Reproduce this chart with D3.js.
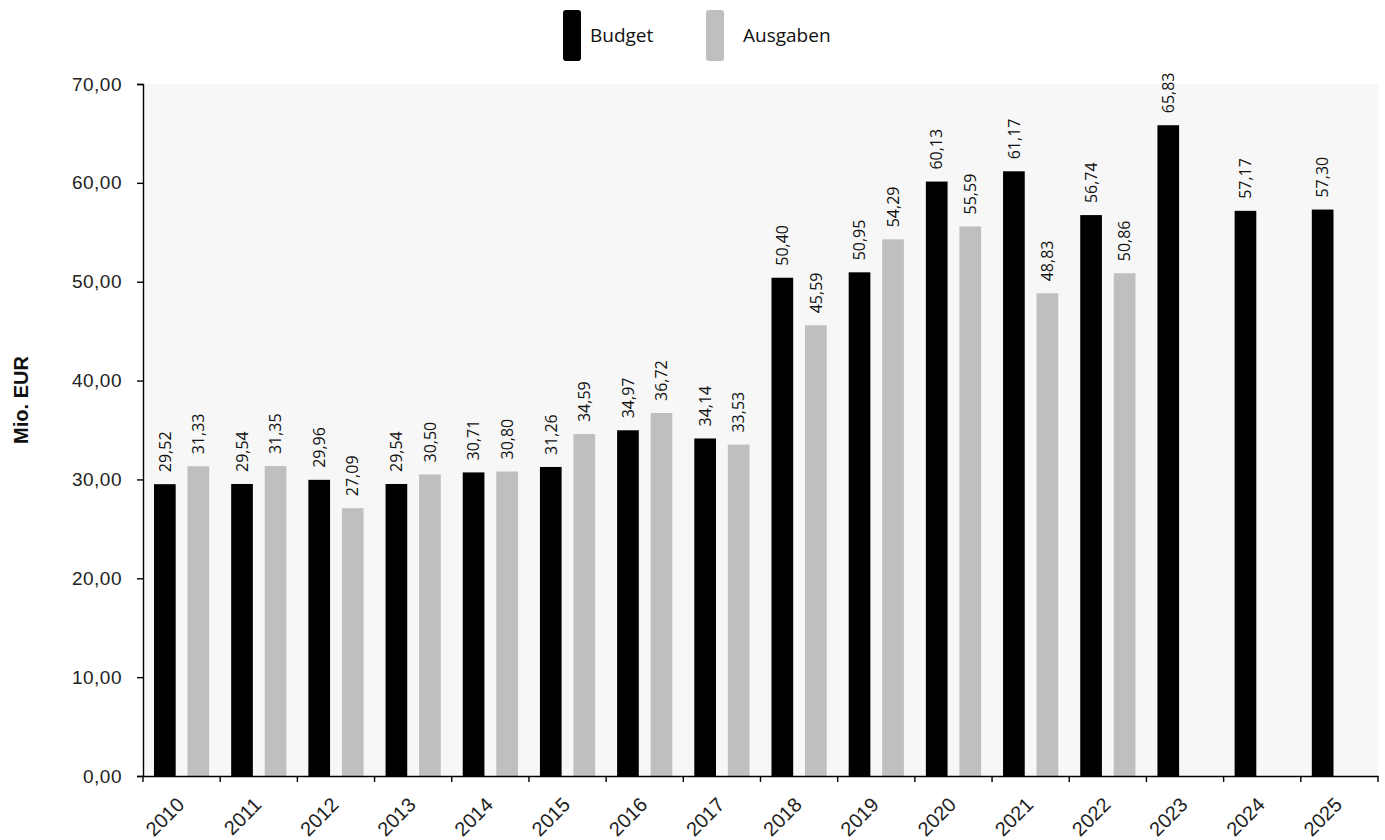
<!DOCTYPE html>
<html>
<head>
<meta charset="utf-8">
<script src="https://cdn.jsdelivr.net/npm/d3@7"></script>
<style>
  html, body { margin: 0; padding: 0; background: #ffffff; }
  svg { display: block; }
</style>
</head>
<body>
<svg id="chart" width="1385" height="840"></svg>
<script>
const years = ["2010","2011","2012","2013","2014","2015","2016","2017","2018","2019","2020","2021","2022","2023","2024","2025"];
const budget = [29.52, 29.54, 29.96, 29.54, 30.71, 31.26, 34.97, 34.14, 50.40, 50.95, 60.13, 61.17, 56.74, 65.83, 57.17, 57.30];
const ausgaben = [31.33, 31.35, 27.09, 30.50, 30.80, 34.59, 36.72, 33.53, 45.59, 54.29, 55.59, 48.83, 50.86, null, null, null];
const seriesNames = ["Budget", "Ausgaben"];
const seriesColors = ["#000000", "#bfbfbf"];
const yTicks = [0, 10, 20, 30, 40, 50, 60, 70];
const yTitle = "Mio. EUR";

const svg = d3.select("#chart");
const margin = { left: 143, right: 1378, top: 84, bottom: 776 };

const x0 = d3.scaleBand().domain(years).range([margin.left, margin.right]).paddingInner(0).paddingOuter(0);
const x1 = d3.scaleBand().domain(seriesNames).range([0, x0.bandwidth()]).paddingInner(0.353).paddingOuter(0.328);
const y = d3.scaleLinear().domain([0, 70]).range([margin.bottom, margin.top]);

const fmt = v => d3.format(".2f")(v).replace(".", ",");

// plot background
svg.append("rect")
  .attr("x", margin.left).attr("y", margin.top)
  .attr("width", margin.right - margin.left).attr("height", margin.bottom - margin.top)
  .attr("fill", "#f7f7f7");

const data = years.map((yr, i) => ({ year: yr, values: [
  { key: "Budget", value: budget[i] },
  { key: "Ausgaben", value: ausgaben[i] }
]}));

const color = d3.scaleOrdinal().domain(seriesNames).range(seriesColors);

const groups = svg.append("g").selectAll("g").data(data).join("g")
  .attr("transform", d => `translate(${x0(d.year)},0)`);

groups.selectAll("rect").data(d => d.values.filter(v => v.value != null)).join("rect")
  .attr("x", d => x1(d.key))
  .attr("width", x1.bandwidth())
  .attr("y", d => y(d.value))
  .attr("height", d => y(0) - y(d.value))
  .attr("fill", d => color(d.key));

groups.selectAll("text").data(d => d.values.filter(v => v.value != null)).join("text")
  .attr("transform", d => `translate(${x1(d.key) + x1.bandwidth() / 2},${y(d.value) - 12}) rotate(-90)`)
  .attr("dy", "0.36em")
  .attr("text-anchor", "start")
  .attr("font-family", "'Open Sans', sans-serif")
  .attr("font-size", 16)
  .attr("fill", "#111")
  .text(d => fmt(d.value));

// y axis
const yAxis = svg.append("g")
  .attr("transform", `translate(${margin.left},0)`)
  .call(d3.axisLeft(y).tickValues(yTicks).tickSize(6).tickPadding(15).tickFormat(fmt));
yAxis.selectAll("text")
  .attr("font-family", "'Liberation Sans', Arial, sans-serif")
  .attr("font-size", 19)
  .attr("letter-spacing", "0.5px")
  .attr("fill", "#222");
yAxis.select(".domain").attr("stroke", "#000").attr("stroke-width", 1.4);
yAxis.selectAll(".tick line").attr("stroke", "#000").attr("stroke-width", 1.4);

// x axis
const xAxis = svg.append("g")
  .attr("transform", `translate(0,${margin.bottom})`)
  .call(d3.axisBottom(x0).tickSize(0).tickFormat(""));
xAxis.select(".domain").attr("stroke", "#000").attr("stroke-width", 1.4);
xAxis.selectAll(".tick").remove();
// boundary ticks
const bounds = years.map(yr => x0(yr)).concat([margin.right]);
xAxis.selectAll("line.bnd").data(bounds).join("line")
  .attr("class", "bnd")
  .attr("x1", d => d).attr("x2", d => d)
  .attr("y1", 0).attr("y2", 6)
  .attr("stroke", "#000").attr("stroke-width", 1.4);
xAxis.selectAll("text.yr").data(years).join("text")
  .attr("class", "yr")
  .attr("transform", d => `translate(${x0(d) + x0.bandwidth() / 2 - 1},${25}) rotate(-45)`)
  .attr("text-anchor", "end")
  .attr("dy", "0.35em")
  .attr("font-family", "'Liberation Sans', Arial, sans-serif")
  .attr("font-size", 20)
  .attr("fill", "#222")
  .text(d => d);

// y title
svg.append("text")
  .attr("transform", `translate(28,400) rotate(-90)`)
  .attr("text-anchor", "middle")
  .attr("font-family", "'Liberation Sans', Arial, sans-serif")
  .attr("font-weight", "bold")
  .attr("font-size", 20)
  .attr("fill", "#111")
  .text(yTitle);

// legend
const legendX = [563, 706];
const legend = svg.append("g").selectAll("g").data(seriesNames).join("g")
  .attr("transform", (d, i) => `translate(${legendX[i]},10)`);
legend.append("rect")
  .attr("width", 18).attr("height", 51).attr("rx", 3)
  .attr("fill", d => color(d));
legend.append("text")
  .attr("x", (d, i) => i === 0 ? 27 : 37)
  .attr("y", 32)
  .attr("font-family", "'Open Sans', sans-serif")
  .attr("font-size", 19)
  .attr("fill", "#111")
  .text(d => d);
</script>
</body>
</html>
